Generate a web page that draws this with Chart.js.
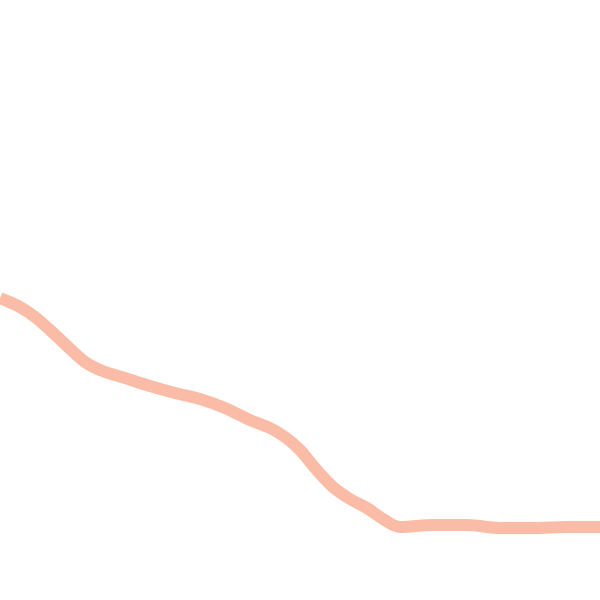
<!DOCTYPE html>
<html>
<head>
<meta charset="utf-8">
<script src="https://cdn.jsdelivr.net/npm/chart.js@4/dist/chart.umd.min.js"></script>
<style>
  html, body { margin: 0; padding: 0; background: #fff; }
  #wrap { width: 600px; height: 600px; }
</style>
</head>
<body>
<div id="wrap"><canvas id="LineChart"></canvas></div>
<script>
// positions along the x axis and the level (0 = bottom)
const xs = [0, 20, 35, 50, 67, 85, 100, 125, 150, 175, 200, 225, 250, 270, 285, 300, 315, 333, 350, 367, 383, 400, 433, 467, 500, 533, 567, 600];
const levels = [302, 293, 283, 270, 254, 238, 230, 222, 214, 207, 201, 192, 180, 172, 163, 150, 132, 113, 101, 92, 81, 73, 75, 75, 72, 72, 73, 73];

const points = xs.map(function (x, i) { return { x: x, y: levels[i] }; });

const data = {
  datasets: [{
    label: 'series',
    data: points,
    borderColor: 'rgba(249, 160, 130, 0.7)',
    borderWidth: 12,
    pointRadius: 0,
    cubicInterpolationMode: 'monotone',
    fill: false
  }]
};

const configforLine = {
  type: 'line',
  data: data,
  options: {
    responsive: true,
    maintainAspectRatio: false,
    animation: false,
    layout: { padding: 0 },
    plugins: { legend: { display: false }, tooltip: { enabled: false } },
    scales: {
      x: { type: 'linear', min: 0, max: 600, display: false },
      y: { min: 0, max: 600, display: false }
    }
  }
};

const myLineChart = new Chart(document.getElementById('LineChart'), configforLine);
</script>
</body>
</html>
